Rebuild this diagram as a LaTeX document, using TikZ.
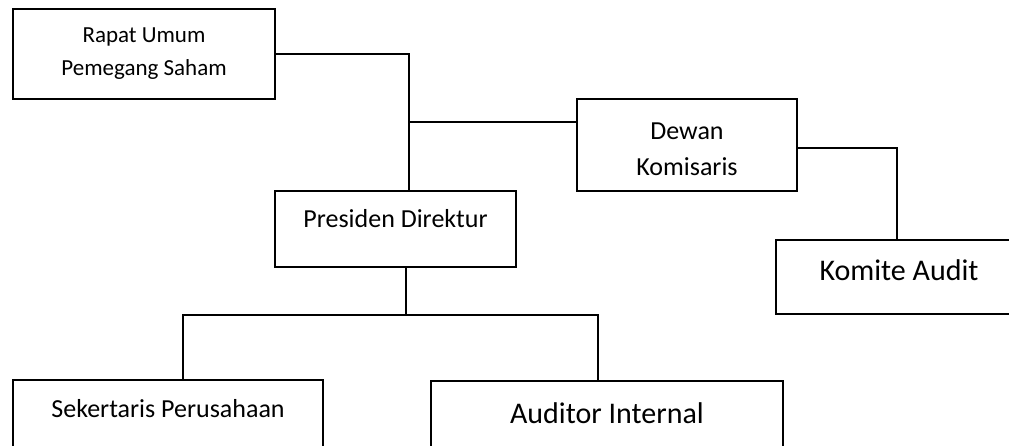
\documentclass[tikz,border=0pt]{standalone}
\usepackage{fontspec}
\setmainfont{Carlito}
\begin{document}
\begin{tikzpicture}[x=1pt,y=-1pt,
    box/.style={draw,line width=2.1pt,inner sep=0pt,align=center},
    conn/.style={line width=1.7pt}]
\useasboundingbox (0,0) rectangle (1009,446);
\clip (0,0) rectangle (1009,446);
{
% Drawing box Rapat Umum Pemegang Saham
\node [box,minimum width=262pt,minimum height=90pt,font=\fontsize{23}{33}\selectfont] (rups) at (144,54) {Rapat Umum\\Pemegang Saham};%

% Drawing box Dewan Komisaris
\node [box,minimum width=220pt,minimum height=92pt,font=\fontsize{26}{36}\selectfont] (dk) at (687,145) {\rule{0pt}{26pt}Dewan\\Komisaris};%

% Drawing box Presiden Direktur
\node [box,minimum width=241pt,minimum height=76pt,text height=18pt,text depth=20pt,font=\fontsize{26}{32}\selectfont] (pres) at (395.5,229) {Presiden Direktur};%

% Drawing box Komite Audit
\node [box,minimum width=246pt,minimum height=74pt,text height=22pt,text depth=14pt,font=\fontsize{30}{36}\selectfont] (ka) at (899,277) {Komite Audit};%

% Drawing box Sekertaris Perusahaan
\node [box,minimum width=310pt,minimum height=74pt,text height=18pt,text depth=18pt,font=\fontsize{26}{32}\selectfont] (sp) at (168,417) {Sekertaris Perusahaan};%

% Drawing box Auditor Internal
\node [box,minimum width=352pt,minimum height=73pt,text height=22pt,text depth=11pt,font=\fontsize{30}{36}\selectfont] (ai) at (607,417.5) {Auditor Internal};%

% Junction points
\coordinate (j1) at (409,54);%
\coordinate (j2) at (409,122);%
\coordinate (j3) at (897,148);%
\coordinate (j4) at (406,315);%
\coordinate (j5) at (183,315);%
\coordinate (j6) at (598,315);%

% Drawing line RUPS to Presiden Direktur
\draw [conn] (rups.east) -- (j1) -- (j1 |- pres.north);%

% Drawing line to Dewan Komisaris
\draw [conn] (j2) -- (j2 -| dk.west);%

% Drawing line Dewan Komisaris to Komite Audit
\draw [conn] (dk.east |- j3) -- (j3) -- (j3 |- ka.north);%

% Drawing line Presiden Direktur to staff
\draw [conn] (j4 |- pres.south) -- (j4);%
\draw [conn] (j5 |- sp.north) -- (j5) -- (j6) -- (j6 |- ai.north);%
}
\end{tikzpicture}
\end{document}
